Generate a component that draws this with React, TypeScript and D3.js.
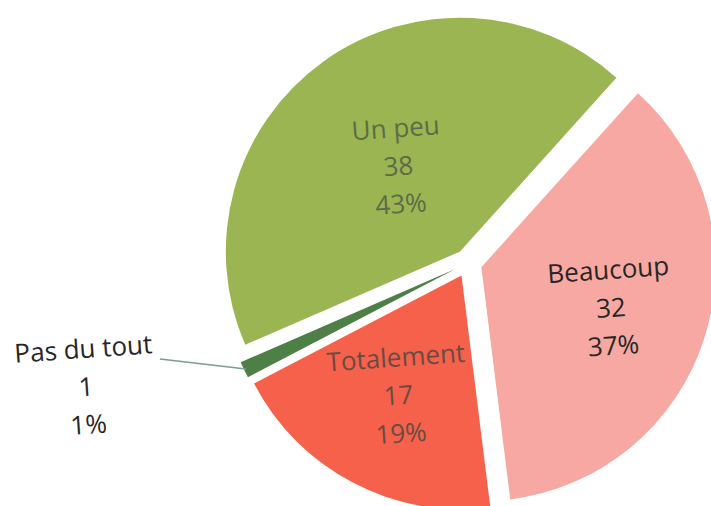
import { useEffect, useRef } from 'react'
import * as d3 from 'd3'

const categories = ['Beaucoup', 'Totalement', 'Pas du tout', 'Un peu']
const counts = [32, 17, 1, 38]
const percents = ['37%', '19%', '1%', '43%']
const colors = ['#f8a8a2', '#f6614b', '#4e7f46', '#9bb552']
const textColors = ['#262626', '#6a4b42', '#262626', '#5d6b47']

const W = 711
const H = 506

// how far out (fraction of radius) each inside label sits
const labelRadiusFraction = [0.58, 0.58, 1, 0.45]

const App = () => {
  const svgRef = useRef<SVGSVGElement>(null)

  useEffect(() => {
    if (!svgRef.current) return
    d3.select(svgRef.current).selectAll('*').remove()

    const cx = 468
    const cy = 263
    const radius = 234
    const explode = 14
    const fontSize = 26
    const lineGap = 38

    const svg = d3
      .select(svgRef.current)
      .attr('width', W)
      .attr('height', H)
      .append('g')
      .attr('transform', `translate(${cx},${cy})`)

    const items = categories.map((c, i) => ({ name: c, value: counts[i], pct: percents[i], i }))
    type Item = typeof items[0]

    const pie = d3
      .pie<Item>()
      .sort(null)
      .value(d => d.value)
      .startAngle((42 * Math.PI) / 180)
      .endAngle((42 * Math.PI) / 180 + 2 * Math.PI)

    const arcs = pie(items)
    const arc = d3.arc<d3.PieArcDatum<Item>>().innerRadius(0).outerRadius(radius)

    const mid = (d: d3.PieArcDatum<Item>) => (d.startAngle + d.endAngle) / 2
    const polar = (a: number, r: number): [number, number] => [Math.sin(a) * r, -Math.cos(a) * r]

    const slices = svg
      .selectAll('g.slice')
      .data(arcs)
      .enter()
      .append('g')
      .attr('class', 'slice')
      .attr('transform', d => {
        const [dx, dy] = polar(mid(d), explode)
        return `translate(${dx},${dy})`
      })

    slices
      .append('path')
      .attr('d', arc)
      .attr('fill', d => colors[d.data.i])

    const addLines = (
      sel: d3.Selection<SVGTextElement, any, any, any>,
      lines: string[]
    ) => {
      sel
        .selectAll('tspan')
        .data(lines)
        .enter()
        .append('tspan')
        .attr('x', 0)
        .attr('y', (_v, k) => (k - 1) * lineGap + 9)
        .text(v => v)
    }

    // inside labels
    slices
      .filter(d => d.data.value > 2)
      .each(function (d) {
        const [x, y] = polar(mid(d), radius * labelRadiusFraction[d.data.i])
        const t = d3
          .select(this)
          .append('text')
          .attr('transform', `translate(${x},${y}) rotate(-4)`)
          .attr('text-anchor', 'middle')
          .attr('font-family', 'Open Sans, sans-serif')
          .attr('font-size', fontSize)
          .attr('fill', textColors[d.data.i])
        addLines(t, [d.data.name, String(d.data.value), d.data.pct])
      })

    // outside label with leader line for the tiny slice
    slices
      .filter(d => d.data.value <= 2)
      .each(function (d) {
        const g = d3.select(this)
        const tip = polar(mid(d), radius - 2)
        const elbow: [number, number] = [tip[0] - 86, tip[1] - 10]
        g.append('path')
          .attr('d', d3.line()([tip, elbow]))
          .attr('stroke', '#7d9c95')
          .attr('stroke-width', 1.5)
          .attr('fill', 'none')
        const t = g
          .append('text')
          .attr('transform', `translate(${elbow[0] - 74},${elbow[1] + 28}) rotate(-4)`)
          .attr('text-anchor', 'middle')
          .attr('font-family', 'Open Sans, sans-serif')
          .attr('font-size', fontSize)
          .attr('fill', textColors[d.data.i])
        addLines(t, [d.data.name, String(d.data.value), d.data.pct])
      })
  }, [])

  return (
    <div style={{ position: 'absolute', left: 0, top: 0, width: W, height: H, overflow: 'hidden', background: '#fff' }}>
      <svg ref={svgRef}></svg>
    </div>
  )
}

export default App
